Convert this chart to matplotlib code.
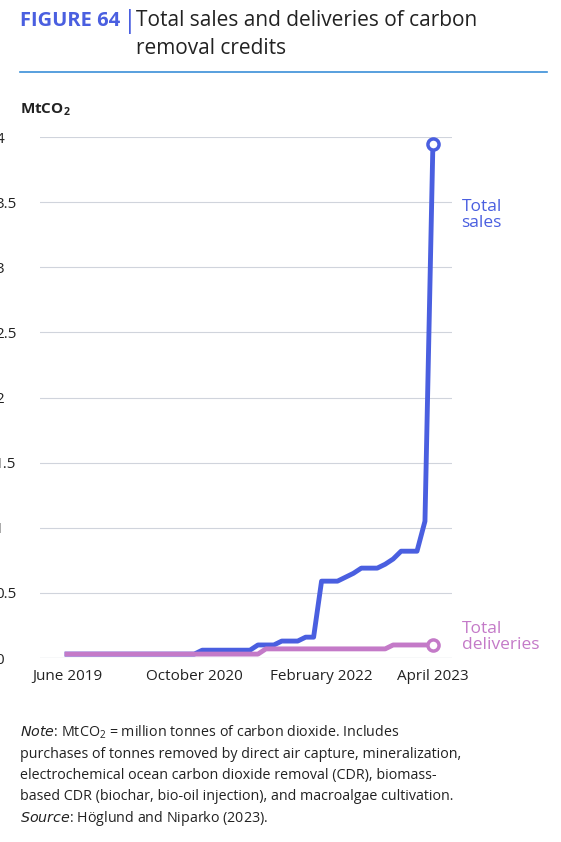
import numpy as np
import matplotlib.pyplot as plt
from matplotlib.lines import Line2D

plt.rcParams['font.family'] = ['Open Sans', 'DejaVu Sans']

# Данные: помесячно, июнь 2019 - апрель 2023
months = np.arange(47)
sales = [0.03] * 17 + [0.06] * 7 + [0.1, 0.1, 0.1, 0.13, 0.13, 0.13, 0.16, 0.16,
         0.59, 0.59, 0.59, 0.62, 0.65, 0.69, 0.69, 0.69, 0.72, 0.76,
         0.82, 0.82, 0.82, 1.05, 3.95]
deliveries = [0.03] * 25 + [0.07] * 16 + [0.1] * 6
tick_pos = [0, 16, 32, 46]
tick_labels = ['June 2019', 'October 2020', 'February 2022', 'April 2023']
yticks = [0, 0.5, 1, 1.5, 2, 2.5, 3, 3.5, 4]

blue = '#4a5fe0'
pink = '#c47ac8'
dark = '#222222'

fig = plt.figure(figsize=(5.61, 8.42), dpi=100)
ax = fig.add_axes([40 / 561, 1 - 658 / 842, 412 / 561, 521 / 842])

ax.plot(months, sales, color=blue, lw=3.5, zorder=3)
ax.plot(months, deliveries, color=pink, lw=3.5, zorder=3.5)
ax.plot(months[-1], sales[-1], 'o', ms=8, mfc='white', mec=blue, mew=2.5, zorder=4)
ax.plot(months[-1], deliveries[-1], 'o', ms=8, mfc='white', mec=pink, mew=2.5, zorder=4)

ax.set_xlim(-3.4, 48.4)
ax.set_ylim(0, 4)
ax.set_yticks(yticks)
ax.set_yticklabels(['0', '0.5', '1', '1.5', '2', '2.5', '3', '3.5', '4'])
ax.set_xticks(tick_pos)
ax.set_xticklabels(tick_labels)
ax.tick_params(length=0, labelsize=11, colors=dark)
ax.tick_params(axis='x', pad=8)
for lab in ax.get_yticklabels():
    lab.set_horizontalalignment('left')
    lab.set_x(-40 / 412)
ax.grid(axis='y', color='#d0d4dc', lw=0.8)
ax.set_axisbelow(True)
for s in ax.spines.values():
    s.set_visible(False)
ax.axhline(0, color='#b0b4bc', lw=0.8)

ax.text(49.6, 3.4, 'Total\nsales', color=blue, fontsize=12.5, va='center', linespacing=0.95,
        clip_on=False)
ax.text(49.6, 0.16, 'Total\ndeliveries', color=pink, fontsize=12.5, va='center', linespacing=0.95,
        clip_on=False)

# Заголовок
fig.text(20 / 561, 1 - 21 / 842, 'FIGURE 64', color=blue, fontsize=14.5, fontweight='bold', va='center')
fig.text(123 / 561, 1 - 21 / 842, '|', color=blue, fontsize=18, va='center')
fig.text(136 / 561, 1 - 21 / 842, 'Total sales and deliveries of carbon', color=dark, fontsize=15, va='center')
fig.text(136 / 561, 1 - 48 / 842, 'removal credits', color=dark, fontsize=15, va='center')
fig.add_artist(Line2D([20 / 561, 547 / 561], [1 - 72 / 842] * 2, color='#3b8fd8', lw=1.2))

fig.text(20 / 561, 1 - 110 / 842, r'MtCO$_\mathregular{2}$', color=dark, fontsize=11, fontweight='bold', va='center')

# Примечания
notes = [
    (732, r'$\it{Note}$: MtCO$_\mathregular{2}$ = million tonnes of carbon dioxide. Includes'),
    (754, 'purchases of tonnes removed by direct air capture, mineralization,'),
    (775, 'electrochemical ocean carbon dioxide removal (CDR), biomass-'),
    (796, 'based CDR (biochar, bio-oil injection), and macroalgae cultivation.'),
    (818, r'$\it{Source}$: Höglund and Niparko (2023).'),
]
for y, t in notes:
    fig.text(20 / 561, 1 - y / 842, t, color=dark, fontsize=10.3, va='center')

fig.savefig('out.png', dpi=100)
